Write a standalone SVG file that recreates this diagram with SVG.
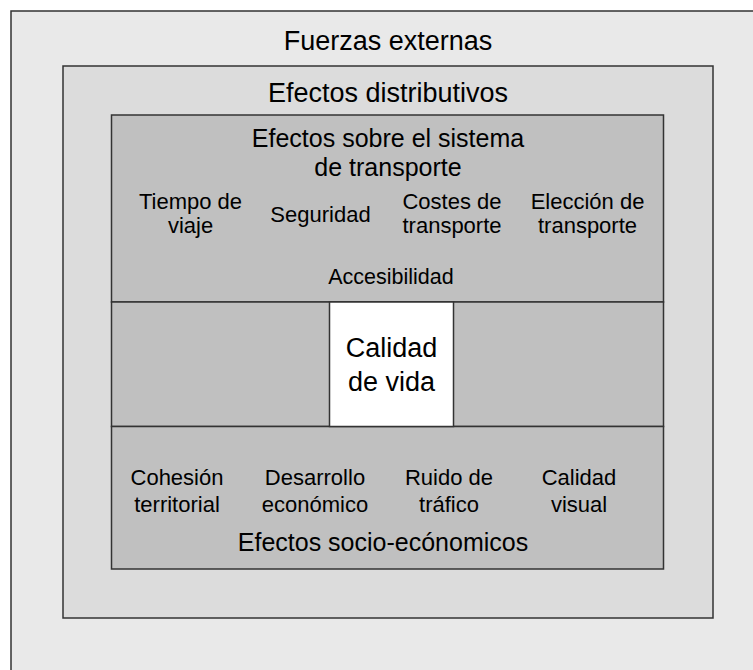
<svg xmlns="http://www.w3.org/2000/svg" width="753" height="670" viewBox="0 0 753 670">
<style>
.box{stroke:#333;stroke-width:1.5}
.t{font-family:"Liberation Sans",Arial,sans-serif;fill:#000;text-anchor:middle}
.top{font-size:27px}
.h{font-size:25px}
.i{font-size:22px}
.acc{font-size:21.5px}
.big{font-size:27px}
</style>
<rect width="753" height="670" fill="#ffffff"/>
<g id="fuerzas-externas">
<rect class="box" x="11" y="11" width="800" height="720" fill="#e9e9e9"/>
<text class="t top" x="388" y="50">Fuerzas externas</text>
</g>
<g id="efectos-distributivos">
<rect class="box" x="63" y="66" width="650" height="552" fill="#dcdcdc"/>
<text class="t top" x="388" y="102">Efectos distributivos</text>
</g>
<g id="efectos-transporte">
<rect class="box" x="111.5" y="115" width="552" height="187" fill="#c0c0c0"/>
<text class="t h" x="388" y="147">Efectos sobre el sistema</text>
<text class="t h" x="388" y="176">de transporte</text>
<text class="t i" x="190.5" y="209">Tiempo de</text>
<text class="t i" x="190.5" y="233">viaje</text>
<text class="t i" x="320.5" y="222">Seguridad</text>
<text class="t i" x="452" y="209">Costes de</text>
<text class="t i" x="452" y="233">transporte</text>
<text class="t i" x="587.5" y="209">Elección de</text>
<text class="t i" x="587.5" y="233">transporte</text>
<text class="t acc" x="391" y="284">Accesibilidad</text>
</g>
<g id="franja-central">
<rect class="box" x="111.5" y="302" width="552" height="124.5" fill="#c0c0c0"/>
</g>
<g id="efectos-socioeconomicos">
<rect class="box" x="111.5" y="426.5" width="552" height="142.5" fill="#c0c0c0"/>
<text class="t i" x="177" y="485">Cohesión</text>
<text class="t i" x="177" y="512">territorial</text>
<text class="t i" x="315" y="485">Desarrollo</text>
<text class="t i" x="315" y="512">económico</text>
<text class="t i" x="449" y="485">Ruido de</text>
<text class="t i" x="449" y="512">tráfico</text>
<text class="t i" x="579" y="485">Calidad</text>
<text class="t i" x="579" y="512">visual</text>
<text class="t h" x="383" y="551">Efectos socio-ecónomicos</text>
</g>
<g id="calidad-de-vida">
<rect class="box" x="329.5" y="302" width="124" height="124.5" fill="#ffffff"/>
<text class="t big" x="391.5" y="357">Calidad</text>
<text class="t big" x="391.5" y="391">de vida</text>
</g>
</svg>
